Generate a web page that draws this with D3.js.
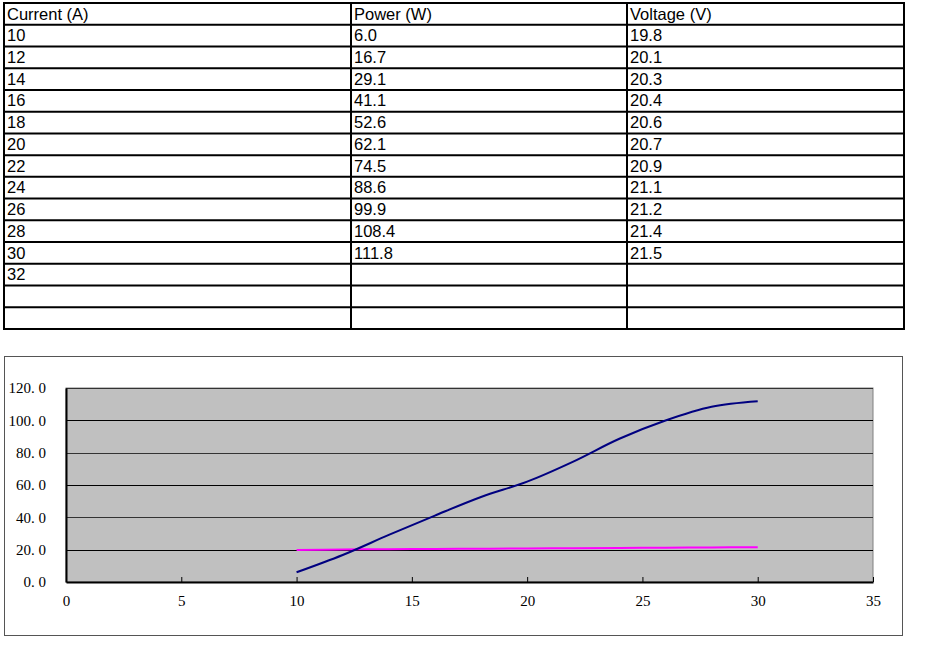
<!DOCTYPE html>
<html>

<head>
    <meta charset="utf-8">
    <script src="https://d3js.org/d3.v7.min.js"></script>
    <style>
        body {
            margin: 0;
            background: #fff;
            overflow: hidden;
        }

        svg text.cell {
            font: 16.5px "Liberation Sans", Arial, sans-serif;
            fill: #000;
        }

        svg .axis text {
            font: 15px "Liberation Serif", "DejaVu Serif", serif;
            fill: #000;
        }
    </style>
</head>

<body>
    <svg id="chart" width="925" height="646"></svg>
    <script>
        // table data
        var headers = ["Current (A)", "Power (W)", "Voltage (V)"];
        var current = [10, 12, 14, 16, 18, 20, 22, 24, 26, 28, 30, 32];
        var power = [6.0, 16.7, 29.1, 41.1, 52.6, 62.1, 74.5, 88.6, 99.9, 108.4, 111.8];
        var voltage = [19.8, 20.1, 20.3, 20.4, 20.6, 20.7, 20.9, 21.1, 21.2, 21.4, 21.5];
        var emptyRows = 2;

        // axis ticks
        var xTicks = [0, 5, 10, 15, 20, 25, 30, 35];
        var yTicks = [0, 20, 40, 60, 80, 100, 120];

        var svg = d3.select("#chart");

        // ---- table ----
        var tbl = { x0: 4, x1: 904, y0: 3, y1: 329 };
        var colX = [4, 351, 627, 904];
        var nRows = 1 + current.length + emptyRows;
        var rowY = d3.scaleLinear().domain([0, nRows]).range([tbl.y0, tbl.y1]);

        var rows = [headers];
        current.forEach((c, i) => {
            rows.push([
                String(c),
                power[i] != null ? power[i].toFixed(1) : "",
                voltage[i] != null ? voltage[i].toFixed(1) : ""
            ]);
        });
        for (var i = 0; i < emptyRows; i++) rows.push(["", "", ""]);

        var tg = svg.append("g").attr("class", "table");

        rows.forEach((r, ri) => {
            r.forEach((txt, ci) => {
                if (!txt) return;
                tg.append("text")
                    .attr("class", "cell")
                    .attr("x", colX[ci] + 3)
                    .attr("y", rowY(ri) + 16.5)
                    .text(txt);
            });
        });

        // horizontal rules
        tg.selectAll("line.h")
            .data(d3.range(nRows + 1))
            .enter().append("line")
            .attr("x1", tbl.x0 - 1).attr("x2", tbl.x1 + 1)
            .attr("y1", d => rowY(d)).attr("y2", d => rowY(d))
            .attr("stroke", "#000").attr("stroke-width", 2);

        // vertical rules
        tg.selectAll("line.v")
            .data(colX)
            .enter().append("line")
            .attr("x1", d => d).attr("x2", d => d)
            .attr("y1", tbl.y0).attr("y2", tbl.y1)
            .attr("stroke", "#000").attr("stroke-width", 2);

        // ---- chart ----
        svg.append("rect")
            .attr("x", 4.5).attr("y", 356.5)
            .attr("width", 898).attr("height", 279)
            .attr("fill", "#fff")
            .attr("stroke", "#555").attr("stroke-width", 1);

        var plot = { left: 66, top: 388, right: 873, bottom: 582 };

        var x = d3.scaleLinear().domain([0, 35]).range([plot.left, plot.right]);
        var y = d3.scaleLinear().domain([0, 120]).range([plot.bottom, plot.top]);

        svg.append("rect")
            .attr("x", plot.left).attr("y", plot.top)
            .attr("width", plot.right - plot.left).attr("height", plot.bottom - plot.top)
            .attr("fill", "#c0c0c0")
            .attr("stroke", "#808080").attr("stroke-width", 1);

        // gridlines
        svg.append("g")
            .selectAll("line")
            .data(yTicks.filter(d => d > 0))
            .enter().append("line")
            .attr("x1", plot.left).attr("x2", plot.right)
            .attr("y1", d => Math.round(y(d)) + 0.5).attr("y2", d => Math.round(y(d)) + 0.5)
            .attr("stroke", (d, i) => i % 2 ? "#333" : "#000")
            .attr("stroke-width", 1);

        // x axis
        var xAxis = svg.append("g")
            .attr("class", "axis")
            .attr("transform", `translate(0,${plot.bottom})`)
            .call(d3.axisBottom(x).tickValues(xTicks).tickSizeInner(-5).tickSizeOuter(0).tickPadding(13));
        xAxis.select(".domain").attr("stroke", "#000").attr("stroke-width", 2);
        xAxis.selectAll(".tick line").attr("stroke", "#000");

        // y axis
        var yAxis = svg.append("g")
            .attr("class", "axis")
            .attr("transform", `translate(${plot.left},0)`)
            .call(d3.axisLeft(y).tickValues(yTicks).tickSize(0).tickPadding(20)
                .tickFormat(d => d3.format(".1f")(d).replace(".", ". ")));
        yAxis.select(".domain").attr("stroke", "#000").attr("stroke-width", 2);

        // series
        var line = d3.line().curve(d3.curveCatmullRom.alpha(0.5));
        var pts = (vals) => vals.map((v, i) => [x(current[i]), y(v)]);

        svg.append("path")
            .attr("d", line(pts(voltage)))
            .attr("fill", "none")
            .attr("stroke", "#ff00ff").attr("stroke-width", 2);

        svg.append("path")
            .attr("d", line(pts(power)))
            .attr("fill", "none")
            .attr("stroke", "#000080").attr("stroke-width", 2);
    </script>
</body>

</html>
